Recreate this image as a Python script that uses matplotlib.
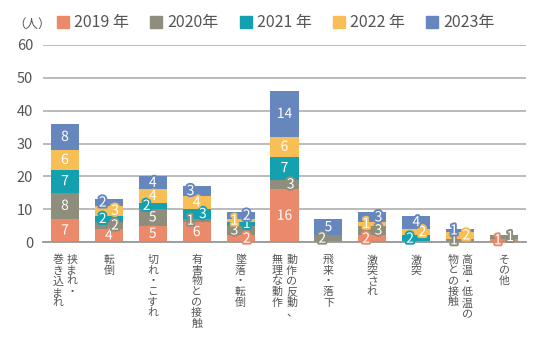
import matplotlib
matplotlib.use("Agg")
import matplotlib.pyplot as plt
import matplotlib.patheffects as pe
from matplotlib.lines import Line2D
import numpy as np

plt.rcParams['font.family'] = ['Noto Sans CJK JP', 'DejaVu Sans']

categories = [
    ["挟まれ・", "巻き込まれ"],
    ["転倒"],
    ["切れ・こすれ"],
    ["有害物との接触"],
    ["墜落・転倒"],
    ["動作の反動、", "無理な動作"],
    ["飛来・落下"],
    ["激突され"],
    ["激突"],
    ["高温・低温の", "物との接触"],
    ["その他"],
]
series_names = ["2019 年", "2020年", "2021 年", "2022 年", "2023年"]
v2019 = [7, 4, 5, 6, 2, 16, 0, 2, 0, 0, 1]
v2020 = [8, 2, 5, 1, 3, 3, 2, 3, 0, 1, 1]
v2021 = [7, 2, 2, 3, 1, 7, 0, 0, 2, 0, 0]
v2022 = [6, 3, 4, 4, 1, 6, 0, 1, 2, 2, 0]
v2023 = [8, 2, 4, 3, 2, 14, 5, 3, 4, 1, 0]
series = [v2019, v2020, v2021, v2022, v2023]
colors = ["#EA8A6B", "#8F8D7B", "#13A1AF", "#F8BF57", "#6687BE"]
yticks = [0, 10, 20, 30, 40, 50, 60]

# style: side on which the first small-segment label of each bar is nudged
first_side = [1, 1, -1, -1, 1, 1, -1, -1, -1, -1, -1]

fig = plt.figure(figsize=(5.5, 3.47), dpi=100)
ax = fig.add_axes([43/550, 1 - 242/347, (526 - 43)/550, (242 - 45)/347])

x = np.arange(len(categories))
bottom = np.zeros(len(categories))
width = 0.64
side = np.array(first_side, dtype=float)
for vals, col in zip(series, colors):
    vals = np.array(vals, dtype=float)
    ax.bar(x, vals, width, bottom=bottom, color=col, zorder=3, linewidth=0)
    for i, v in enumerate(vals):
        if v <= 0:
            continue
        xi = x[i]
        if v <= 3:
            xi = x[i] + 0.14 * side[i]
            side[i] = -side[i]
        ax.text(xi, bottom[i] + v / 2, f"{int(v)}", ha="center", va="center",
                color="white", fontsize=10, zorder=5,
                path_effects=[pe.withStroke(linewidth=2.8, foreground=col)])
    bottom += vals

ax.set_xlim(-0.5, len(categories) - 0.5)
ax.set_ylim(0, 60)
ax.set_yticks(yticks)
ax.set_yticklabels([str(t) for t in yticks], fontsize=10.5, color="#555555")
ax.tick_params(axis="y", length=0, pad=7)
ax.set_xticks([])
ax.grid(axis="y", color="#B5B5B5", linewidth=1.3, zorder=0)
for s in ["top", "right", "left"]:
    ax.spines[s].set_visible(False)
ax.spines["bottom"].set_color("#999999")
ax.spines["bottom"].set_linewidth(1.3)
ax.spines["bottom"].set_zorder(4)

# vertical (tategaki) category labels
for i, cols in enumerate(categories):
    n = len(cols)
    for j, col_text in enumerate(cols):
        # first column is the rightmost
        dx = (0.16 if n == 2 else 0.0) * (1 if j == 0 else -1)
        ax.text(x[i] + dx, -0.065, "\n".join(col_text), transform=ax.get_xaxis_transform(),
                ha="center", va="top", fontsize=7.9, linespacing=1.08, color="#555555")

fig.text(13/550, 1 - 24/347, "（人）", fontsize=9, color="#555555", ha="left", va="center")
handles = [Line2D([0], [0], marker="s", linestyle="", markersize=8.5,
                  markerfacecolor=c, markeredgecolor=c) for c in colors]
fig.legend(handles, series_names, loc="center", bbox_to_anchor=(276/550, 1 - 23/347),
           ncol=5, frameon=False, fontsize=11.5, handlelength=0.7, handletextpad=0.35,
           columnspacing=1.35, labelcolor="#555555", borderaxespad=0)

fig.savefig("out.png", dpi=100)
